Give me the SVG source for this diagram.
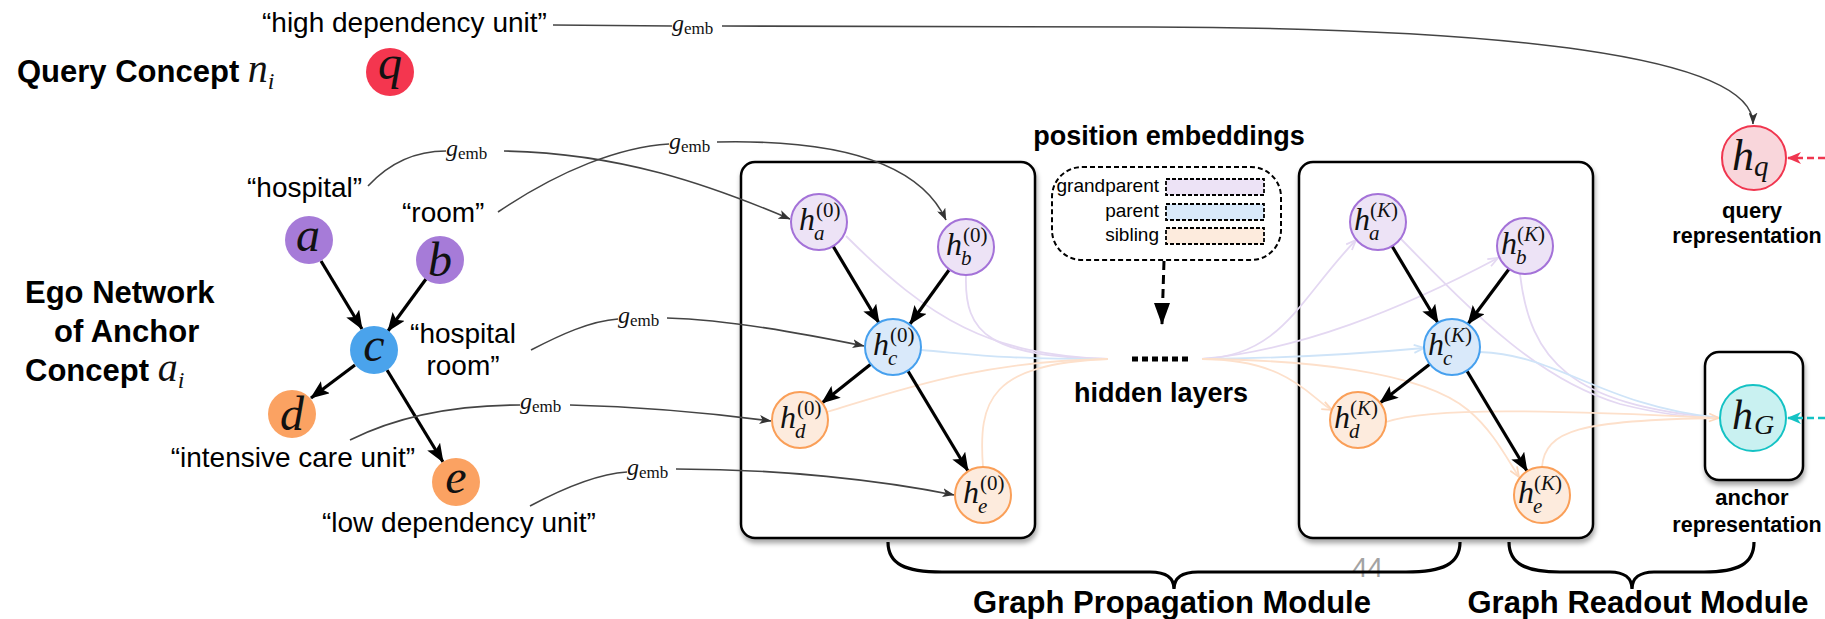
<svg xmlns="http://www.w3.org/2000/svg" width="1825" height="619" viewBox="0 0 1825 619">
  <style>
    .lbl { font-family: "Liberation Sans", Arial, sans-serif; font-size: 28px; fill: #000; }
    .bold { font-family: "Liberation Sans", Arial, sans-serif; font-weight: bold; fill: #000; }
    .math { font-family: "Liberation Serif", "Times New Roman", serif; font-style: italic; fill: #111; }
    .rm { font-family: "Liberation Serif", "Times New Roman", serif; font-style: normal; fill: #111; }
    .leg { font-family: "Liberation Sans", Arial, sans-serif; font-size: 19px; fill: #000; text-anchor: end; }
    .box { fill: #fff; stroke: #000; stroke-width: 2.5; filter: url(#sh); }
    .emb { fill: none; stroke: #444; stroke-width: 1.6; }
    .thick { fill: none; stroke: #000; stroke-width: 3.2; marker-end: url(#ahBlack); }
    .fp { fill: none; stroke: #e4d8f2; stroke-width: 1.8; }
    .fb { fill: none; stroke: #cfe4f8; stroke-width: 1.8; }
    .fo { fill: none; stroke: #fde0cb; stroke-width: 1.8; }
    .nP { fill: #ede3f6; stroke: #a472d8; stroke-width: 2; }
    .nB { fill: #d9e9fa; stroke: #46a0ee; stroke-width: 2; }
    .nO { fill: #fdebdd; stroke: #fa9f58; stroke-width: 2; }
    .hh { font-size: 32px; }
    .sup { font-size: 21px; }
    .sub { font-size: 21px; }
    .big { font-size: 48px; text-anchor: middle; }
  </style>
  <defs>
    <filter id="sh" x="-10%" y="-10%" width="125%" height="125%">
      <feDropShadow dx="1" dy="4" stdDeviation="2.5" flood-color="#000" flood-opacity="0.35"/>
    </filter>
    <marker id="ahBlack" markerUnits="userSpaceOnUse" markerWidth="19" markerHeight="15" viewBox="0 0 19 15" refX="18" refY="7.5" orient="auto">
      <path d="M0,0 L19,7.5 L0,15 L4,7.5 z" fill="#000"/>
    </marker>
    <marker id="ahGray" markerUnits="userSpaceOnUse" markerWidth="12" markerHeight="9" viewBox="0 0 12 9" refX="11.5" refY="4.5" orient="auto">
      <path d="M0,0 L12,4.5 L0,9 L3,4.5 z" fill="#333"/>
    </marker>
    <marker id="ahDash" markerUnits="userSpaceOnUse" markerWidth="16" markerHeight="22" viewBox="0 0 16 22" refX="8" refY="21" orient="0">
      <path d="M0,0 L8,22 L16,0 z" fill="#000"/>
    </marker>
    <marker id="ahRed" markerUnits="userSpaceOnUse" markerWidth="14" markerHeight="12" viewBox="0 0 14 12" refX="13" refY="6" orient="auto">
      <path d="M0,0 L14,6 L0,12 L4,6 z" fill="#f0364f"/>
    </marker>
    <marker id="ahTeal" markerUnits="userSpaceOnUse" markerWidth="14" markerHeight="12" viewBox="0 0 14 12" refX="13" refY="6" orient="auto">
      <path d="M0,0 L14,6 L0,12 L4,6 z" fill="#14c2c4"/>
    </marker>
    <marker id="ahP" markerUnits="userSpaceOnUse" markerWidth="12" markerHeight="10" viewBox="0 0 12 10" refX="11" refY="5" orient="auto">
      <path d="M1,1 L11,5 L1,9" fill="none" stroke="#e4d8f2" stroke-width="1.8"/>
    </marker>
    <marker id="ahB" markerUnits="userSpaceOnUse" markerWidth="12" markerHeight="10" viewBox="0 0 12 10" refX="11" refY="5" orient="auto">
      <path d="M1,1 L11,5 L1,9" fill="none" stroke="#cfe4f8" stroke-width="1.8"/>
    </marker>
    <marker id="ahO" markerUnits="userSpaceOnUse" markerWidth="12" markerHeight="10" viewBox="0 0 12 10" refX="11" refY="5" orient="auto">
      <path d="M1,1 L11,5 L1,9" fill="none" stroke="#fcd9bf" stroke-width="1.8"/>
    </marker>
  </defs>

  <rect width="1825" height="619" fill="#fff"/>

  <!-- section titles -->
  <g id="titles">
    <text class="bold" x="17" y="82" font-size="31">Query Concept <tspan class="math" font-weight="normal" font-size="40">n</tspan><tspan class="math" font-weight="normal" font-size="24" dy="7">i</tspan></text>
    <text class="bold" x="25" y="303" font-size="31">Ego Network</text>
    <text class="bold" x="54" y="342" font-size="31">of Anchor</text>
    <text class="bold" x="25" y="381" font-size="31">Concept <tspan class="math" font-weight="normal" font-size="40">a</tspan><tspan class="math" font-weight="normal" font-size="24" dy="7">i</tspan></text>
    <text class="bold" x="1169" y="145" font-size="27" text-anchor="middle">position embeddings</text>
    <text class="bold" x="1161" y="402" font-size="27" text-anchor="middle">hidden layers</text>
    <text class="bold" x="1172" y="613" font-size="31" text-anchor="middle">Graph Propagation Module</text>
    <text class="bold" x="1638" y="613" font-size="31" text-anchor="middle">Graph Readout Module</text>
    <text x="1352" y="577" font-family="Liberation Sans, Arial, sans-serif" font-size="28" fill="#a3a3a3">44</text>
  </g>

  <!-- concept name labels -->
  <g id="concept-names">
    <text class="lbl" x="262" y="32">“high dependency unit”</text>
    <text class="lbl" x="247" y="197">“hospital”</text>
    <text class="lbl" x="402" y="222">“room”</text>
    <text class="lbl" x="463" y="343" text-anchor="middle">“hospital</text>
    <text class="lbl" x="463" y="375" text-anchor="middle">room”</text>
    <text class="lbl" x="415" y="467" text-anchor="end">“intensive care unit”</text>
    <text class="lbl" x="322" y="532">“low dependency unit”</text>
  </g>

  <!-- module frames -->
  <g id="frames">
    <rect id="frame-input" class="box" x="741" y="162" width="294" height="376" rx="14"/>
    <rect id="frame-output" class="box" x="1299" y="162" width="294" height="376" rx="14"/>
    <rect id="frame-readout" class="box" x="1705" y="352" width="98" height="128" rx="14"/>
  </g>

  <!-- connectors -->
  <g id="connectors">
    <!-- ego network edges -->
    <path class="thick" d="M321,261 L362,329"/>
    <path class="thick" d="M426,279 L388,331"/>
    <path class="thick" d="M355,365 L311,398"/>
    <path class="thick" d="M387,370 L443,462"/>

    <!-- g_emb encodings -->
    <path class="emb" d="M553,25 L672,26"/>
    <path class="emb" d="M722,26 L1150,27 C1500,28 1753,55 1753,124" marker-end="url(#ahGray)"/>
    <path class="emb" d="M368,186 C392,160 418,151 446,151"/>
    <path class="emb" d="M504,151 C620,153 710,185 790,219" marker-end="url(#ahGray)"/>
    <path class="emb" d="M498,212 C560,170 620,147 669,144"/>
    <path class="emb" d="M717,142 C850,139 922,168 946,220" marker-end="url(#ahGray)"/>
    <path class="emb" d="M531,350 C560,335 590,321 618,319"/>
    <path class="emb" d="M667,318 C730,320 800,333 864,346" marker-end="url(#ahGray)"/>
    <path class="emb" d="M350,440 C400,415 460,405 520,405"/>
    <path class="emb" d="M570,405 C650,407 710,413 771,421" marker-end="url(#ahGray)"/>
    <path class="emb" d="M530,506 C560,490 595,474 627,472"/>
    <path class="emb" d="M676,469 C780,469 880,480 954,495" marker-end="url(#ahGray)"/>

    <!-- layer-0 states into hidden layers -->
    <path class="fp" d="M846,236 C930,320 990,355 1108,359"/>
    <path class="fp" d="M966,275 C964,335 990,356 1108,359"/>
    <path class="fb" d="M921,350 C980,355 1000,359 1108,359"/>
    <path class="fo" d="M827,412 C900,390 980,361 1108,359"/>
    <path class="fo" d="M983,467 C978,400 990,364 1108,359"/>

    <!-- hidden layers into layer-K states -->
    <path class="fp" d="M1202,359 C1282,356 1300,298 1356,240" marker-end="url(#ahP)"/>
    <path class="fp" d="M1202,359 C1300,350 1400,310 1498,258" marker-end="url(#ahP)"/>
    <path class="fb" d="M1202,359 C1300,358 1370,353 1424,348" marker-end="url(#ahB)"/>
    <path class="fo" d="M1202,359 C1290,359 1312,400 1332,410" marker-end="url(#ahO)"/>
    <path class="fo" d="M1202,359 C1300,360 1420,370 1468,410 C1492,430 1505,455 1519,477" marker-end="url(#ahO)"/>

    <!-- layer-K states into readout -->
    <path class="fp" d="M1401,239 C1480,320 1540,380 1620,404 C1660,414 1690,418 1719,418"/>
    <path class="fp" d="M1520,274 C1530,360 1570,405 1719,418"/>
    <path class="fb" d="M1480,352 C1560,355 1600,405 1719,418"/>
    <path class="fo" d="M1542,467 C1545,430 1580,420 1719,418"/>
    <path class="fo" d="M1386,422 C1430,407 1550,410 1719,418" marker-end="url(#ahO)"/>

    <!-- layer-0 message passing -->
    <path class="thick" d="M833,246 L879,323"/>
    <path class="thick" d="M949,270 L910,324"/>
    <path class="thick" d="M871,364 L822,403"/>
    <path class="thick" d="M908,371 L968,471"/>

    <!-- layer-K message passing -->
    <path class="thick" d="M1392,246 L1438,323"/>
    <path class="thick" d="M1509,269 L1468,324"/>
    <path class="thick" d="M1430,364 L1380,403"/>
    <path class="thick" d="M1467,371 L1527,471"/>

    <!-- position embeddings into hidden layers -->
    <path d="M1164,261 L1162,324" fill="none" stroke="#000" stroke-width="3" stroke-dasharray="9 5" marker-end="url(#ahDash)"/>
    <path d="M1132,359 H1190" fill="none" stroke="#000" stroke-width="5" stroke-dasharray="6 4"/>

    <!-- incoming dashed links -->
    <path d="M1825,158 L1788,158" fill="none" stroke="#f0364f" stroke-width="2.5" stroke-dasharray="7 4" marker-end="url(#ahRed)"/>
    <path d="M1825,418 L1788,418" fill="none" stroke="#14c2c4" stroke-width="2.5" stroke-dasharray="7 4" marker-end="url(#ahTeal)"/>

    <!-- braces -->
    <path d="M888,542 C888,564 905,572 942,572 L1150,572 C1166,572 1174,578 1174,589 C1174,578 1182,572 1198,572 L1406,572 C1443,572 1460,564 1460,542" fill="none" stroke="#000" stroke-width="3.2"/>
    <path d="M1509,542 C1509,564 1526,572 1560,572 L1610,572 C1624,572 1632,578 1632,589 C1632,578 1640,572 1654,572 L1704,572 C1738,572 1754,564 1754,542" fill="none" stroke="#000" stroke-width="3.2"/>
  </g>

  <!-- g_emb labels -->
  <g id="gemb-labels">
    <text x="672" y="31"><tspan class="math" font-size="24">g</tspan><tspan class="rm" font-size="17" dy="3">emb</tspan></text>
    <text x="446" y="156"><tspan class="math" font-size="24">g</tspan><tspan class="rm" font-size="17" dy="3">emb</tspan></text>
    <text x="669" y="149"><tspan class="math" font-size="24">g</tspan><tspan class="rm" font-size="17" dy="3">emb</tspan></text>
    <text x="618" y="323"><tspan class="math" font-size="24">g</tspan><tspan class="rm" font-size="17" dy="3">emb</tspan></text>
    <text x="520" y="409"><tspan class="math" font-size="24">g</tspan><tspan class="rm" font-size="17" dy="3">emb</tspan></text>
    <text x="627" y="475"><tspan class="math" font-size="24">g</tspan><tspan class="rm" font-size="17" dy="3">emb</tspan></text>
  </g>

  <!-- ego network nodes -->
  <g id="node-q"><circle cx="390" cy="72" r="24" fill="#f4364f"/><text class="math big" x="390" y="79">q</text></g>
  <g id="node-a"><circle cx="309" cy="240" r="24" fill="#a67bd8"/><text class="math big" x="308" y="251">a</text></g>
  <g id="node-b"><circle cx="440" cy="260" r="24" fill="#a67bd8"/><text class="math big" x="440" y="276">b</text></g>
  <g id="node-c"><circle cx="374" cy="350" r="24" fill="#4aa3ec"/><text class="math big" x="374" y="361">c</text></g>
  <g id="node-d"><circle cx="292" cy="414" r="24" fill="#fba262"/><text class="math big" x="292" y="430">d</text></g>
  <g id="node-e"><circle cx="456" cy="482" r="24" fill="#fba262"/><text class="math big" x="456" y="493">e</text></g>

  <!-- layer-0 states -->
  <g id="h0-a"><circle class="nP" cx="819" cy="222" r="28"/>
    <text class="math hh" x="799" y="230">h</text><text class="rm sup" x="816" y="217">(0)</text><text class="math sub" x="814" y="240">a</text></g>
  <g id="h0-b"><circle class="nP" cx="966" cy="247" r="28"/>
    <text class="math hh" x="946" y="255">h</text><text class="rm sup" x="963" y="242">(0)</text><text class="math sub" x="961" y="265">b</text></g>
  <g id="h0-c"><circle class="nB" cx="893" cy="347" r="28"/>
    <text class="math hh" x="873" y="355">h</text><text class="rm sup" x="890" y="342">(0)</text><text class="math sub" x="888" y="365">c</text></g>
  <g id="h0-d"><circle class="nO" cx="800" cy="420" r="28"/>
    <text class="math hh" x="780" y="428">h</text><text class="rm sup" x="797" y="415">(0)</text><text class="math sub" x="795" y="438">d</text></g>
  <g id="h0-e"><circle class="nO" cx="983" cy="495" r="28"/>
    <text class="math hh" x="963" y="503">h</text><text class="rm sup" x="980" y="490">(0)</text><text class="math sub" x="978" y="513">e</text></g>

  <!-- layer-K states -->
  <g id="hK-a"><circle class="nP" cx="1378" cy="222" r="28"/>
    <text class="math hh" x="1354" y="230">h</text><text class="rm sup" x="1370" y="217">(<tspan class="math">K</tspan>)</text><text class="math sub" x="1369" y="240">a</text></g>
  <g id="hK-b"><circle class="nP" cx="1525" cy="246" r="28"/>
    <text class="math hh" x="1501" y="254">h</text><text class="rm sup" x="1517" y="241">(<tspan class="math">K</tspan>)</text><text class="math sub" x="1516" y="264">b</text></g>
  <g id="hK-c"><circle class="nB" cx="1452" cy="347" r="28"/>
    <text class="math hh" x="1428" y="355">h</text><text class="rm sup" x="1444" y="342">(<tspan class="math">K</tspan>)</text><text class="math sub" x="1443" y="365">c</text></g>
  <g id="hK-d"><circle class="nO" cx="1358" cy="420" r="28"/>
    <text class="math hh" x="1334" y="428">h</text><text class="rm sup" x="1350" y="415">(<tspan class="math">K</tspan>)</text><text class="math sub" x="1349" y="438">d</text></g>
  <g id="hK-e"><circle class="nO" cx="1542" cy="495" r="28"/>
    <text class="math hh" x="1518" y="503">h</text><text class="rm sup" x="1534" y="490">(<tspan class="math">K</tspan>)</text><text class="math sub" x="1533" y="513">e</text></g>

  <!-- position embedding legend -->
  <g id="pos-embeddings">
    <rect x="1052" y="167" width="229" height="93" rx="30" fill="none" stroke="#000" stroke-width="2" stroke-dasharray="5 3"/>
    <text class="leg" x="1159" y="192">grandparent</text>
    <text class="leg" x="1159" y="217">parent</text>
    <text class="leg" x="1159" y="241">sibling</text>
    <rect x="1166" y="179" width="98" height="16" fill="#ede3f6" stroke="#000" stroke-width="1.8" stroke-dasharray="4 2"/>
    <rect x="1166" y="204" width="98" height="16" fill="#d9e9fa" stroke="#000" stroke-width="1.8" stroke-dasharray="4 2"/>
    <rect x="1166" y="228" width="98" height="16" fill="#fdebdd" stroke="#000" stroke-width="1.8" stroke-dasharray="4 2"/>
  </g>

  <!-- query representation -->
  <g id="h-query">
    <circle cx="1754" cy="158" r="32" fill="#f9d6db" stroke="#f0364f" stroke-width="2"/>
    <text class="math" x="1732" y="170" font-size="44">h</text><text class="math" x="1754" y="176" font-size="29">q</text>
    <text class="bold" x="1752" y="218" font-size="22" text-anchor="middle">query</text>
    <text class="bold" x="1747" y="243" font-size="21.5" text-anchor="middle">representation</text>
  </g>

  <!-- anchor representation -->
  <g id="h-anchor">
    <circle cx="1753" cy="418" r="33" fill="#c9f1f1" stroke="#14c2c4" stroke-width="2"/>
    <text class="math" x="1732" y="429" font-size="42">h</text><text class="math" x="1754" y="434" font-size="28">G</text>
    <text class="bold" x="1752" y="505" font-size="22" text-anchor="middle">anchor</text>
    <text class="bold" x="1747" y="532" font-size="21.5" text-anchor="middle">representation</text>
  </g>
</svg>
